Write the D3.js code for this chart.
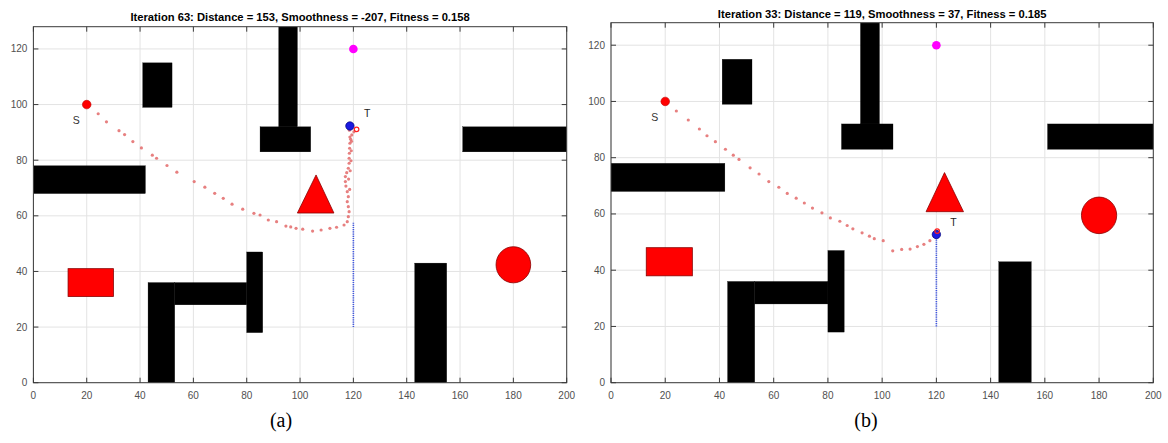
<!DOCTYPE html>
<html><head><meta charset="utf-8">
<script src="https://cdn.jsdelivr.net/npm/d3@7"></script>
<style>body{margin:0;background:#fff;} svg{display:block;}</style>
</head><body><svg id="c" width="1168" height="443"></svg>
<script>
// ---------------- data ----------------
const xTicks = [0,20,40,60,80,100,120,140,160,180,200];
const yTicks = [0,20,40,60,80,100,120];
const titles = ["Iteration 63: Distance = 153, Smoothness = -207, Fitness = 0.158",
                "Iteration 33: Distance = 119, Smoothness = 37, Fitness = 0.185"];
const panelLabels = ["(a)", "(b)"];
// static obstacles [x0, y0, x1, y1]
const blackRects = [
  [41,99,52,115],[92,92,99,128],[85,83,104,92],[161,83,200,92],[0,68,42,78],
  [43,0,53,36],[53,28,80,36],[80,18,86,47],[143,0,155,43]
];
const startPoint = [20,100];
const goalPoint = [120,120];
const startLabel = [16.1,94.5];
// dynamic obstacles per panel
const redRectA = [13,31,30,41];
const redRectB = [13,38,30,48];
const triangleA = [[99,61],[112.7,61],[106,74.7]];
const triangleB = [[116.2,60.8],[130,60.8],[123,74.7]];
const circleA = [180,42.4,6.5];
const circleB = [180,59.5,6.5];
// planned path dots
const pathA = [[24.3,96.7],[27.4,93.8],[32.1,90.6],[34.2,89.2],[37.3,86.7],[40.5,84.4],[44.6,81.8],[46.2,80.7],
  [50.1,78.1],[53.8,75.7],[60.3,72.3],[64.3,70.3],[68,68.1],[71.2,66.3],[74.5,64.2],[78.5,62.4],[82.7,60.9],
  [85,60.3],[88.1,58.5],[91.2,57.9],[94.7,56.3],[96.5,56],[98.5,55.5],[101,55.2],[104.7,54.5],[107.9,54.9],
  [111.2,55.5],[113.7,55.9],[116.5,56.7],[117.7,57.9],[118.1,59.7],[118.4,61.5],[118.1,63.3],[117.7,65.1],
  [118.1,66.9],[117.7,68.7],[118.6,69.5],[117.2,70.7],[117,72.3],[118.2,73.2],[117,74.1],[117.5,75.5],
  [118.8,76.2],[118.1,77.1],[118.4,78.9],[119.1,79.8],[118.4,80.7],[118.5,82.5],[119.2,83.4],[118.6,84.3],
  [118.7,86.1],[119.3,86.8],[119,87.5],[118.7,88.3],[119.4,89.1],[120.2,90.2],[118.5,90.8]];
const pathB = [[24.1,96.6],[28.5,93.4],[32.6,90.2],[35.4,87.8],[38.5,85.7],[42.2,83],[45.1,80.9],[47.2,79.4],
  [51.3,76.4],[54.6,74.2],[58.2,71.5],[61.9,69.5],[65,67.3],[68.3,65.6],[71.3,63.9],[74.3,62.1],[77.8,60.4],
  [80.9,58.6],[84.4,57.4],[87.1,55.9],[89.2,54.7],[92.6,53.3],[95.3,52.1],[97.1,51.2],[100.4,50.5],
  [103.9,46.9],[107.2,47.4],[110.3,47.5],[113,48.4],[115.4,49.2],[117.6,50.5],[119.2,52]];
// robot trail (blue dotted) and current positions
const trailA = [[120,20],[120,57.5]];
const trailB = [[120,20],[120,52]];
const robotA = [118.7,92.3];
const robotB = [120,52.7];
const markerA = [121.2,91.1];
const markerB = [120.3,53.9];
const targetLabelA = [125.2,96.9];
const targetLabelB = [126.3,57.2];

// ---------------- layout ----------------
const panels = [
  {left:33.4, right:566.7, top:26.7, bottom:382.7, titleY:21, labelX:281,
   title:titles[0], label:panelLabels[0], redRect:redRectA, tri:triangleA, circ:circleA,
   path:pathA, trail:trailA, robot:robotA, marker:markerA, tLabel:targetLabelA},
  {left:611, right:1153.3, top:22.7, bottom:382.7, titleY:17.5, labelX:866,
   title:titles[1], label:panelLabels[1], redRect:redRectB, tri:triangleB, circ:circleB,
   path:pathB, trail:trailB, robot:robotB, marker:markerB, tLabel:targetLabelB}
];
const svg = d3.select("#c");
const FONT = "'Liberation Sans', Arial, Helvetica, sans-serif";

panels.forEach((p, i) => {
  const x = d3.scaleLinear().domain([0,200]).range([p.left, p.right]);
  const y = d3.scaleLinear().domain([0,128]).range([p.bottom, p.top]);
  const g = svg.append("g");
  const clipId = "clip" + i;
  g.append("clipPath").attr("id", clipId).append("rect")
    .attr("x", p.left).attr("y", p.top).attr("width", p.right - p.left).attr("height", p.bottom - p.top);

  // grid
  g.selectAll(".gx").data(xTicks).join("line")
    .attr("x1", d => x(d)).attr("x2", d => x(d)).attr("y1", p.top).attr("y2", p.bottom)
    .attr("stroke", "#e3e3e3").attr("stroke-width", 1);
  g.selectAll(".gy").data(yTicks).join("line")
    .attr("y1", d => y(d)).attr("y2", d => y(d)).attr("x1", p.left).attr("x2", p.right)
    .attr("stroke", "#e3e3e3").attr("stroke-width", 1);

  const plot = g.append("g").attr("clip-path", `url(#${clipId})`);

  // black obstacles
  plot.selectAll(".ob").data(blackRects).join("rect")
    .attr("x", d => x(d[0])).attr("y", d => y(d[3]))
    .attr("width", d => x(d[2]) - x(d[0])).attr("height", d => y(d[1]) - y(d[3]))
    .attr("fill", "#000").attr("stroke", "#000").attr("stroke-width", 0.3);

  // red dynamic obstacles
  const r = p.redRect;
  plot.append("rect").attr("x", x(r[0])).attr("y", y(r[3]))
    .attr("width", x(r[2]) - x(r[0])).attr("height", y(r[1]) - y(r[3]))
    .attr("fill", "#ff0000").attr("stroke", "#8a0000").attr("stroke-width", 0.8);
  plot.append("path").attr("d", d3.line().x(d => x(d[0])).y(d => y(d[1]))(p.tri) + "Z")
    .attr("fill", "#ff0000").attr("stroke", "#8a0000").attr("stroke-width", 0.8);
  const c = p.circ;
  plot.append("ellipse").attr("cx", x(c[0])).attr("cy", y(c[1]))
    .attr("rx", x(c[2]) - x(0)).attr("ry", y(0) - y(c[2]))
    .attr("fill", "#ff0000").attr("stroke", "#8a0000").attr("stroke-width", 0.8);

  // blue dotted trail
  plot.append("path").attr("d", d3.line().x(d => x(d[0])).y(d => y(d[1]))(p.trail))
    .attr("stroke", "#3f55e0").attr("stroke-width", 1.6).attr("stroke-dasharray", "1.2,1").attr("fill", "none");

  // path dots
  plot.selectAll(".pd").data(p.path).join("circle")
    .attr("cx", d => x(d[0])).attr("cy", d => y(d[1])).attr("r", 1.6)
    .attr("fill", "#e36a6a").attr("fill-opacity", 0.85);

  // start, goal
  plot.append("circle").attr("cx", x(startPoint[0])).attr("cy", y(startPoint[1])).attr("r", 4.3)
    .attr("fill", "#ff0000").attr("stroke", "#c00000").attr("stroke-width", 0.6);
  plot.append("circle").attr("cx", x(goalPoint[0])).attr("cy", y(goalPoint[1])).attr("r", 4.3)
    .attr("fill", "#ff00ff");

  // robot & marker
  plot.append("circle").attr("cx", x(p.robot[0])).attr("cy", y(p.robot[1])).attr("r", 4.2)
    .attr("fill", "#1a1ae0").attr("stroke", "#00007a").attr("stroke-width", 0.7);
  plot.append("circle").attr("cx", x(p.marker[0])).attr("cy", y(p.marker[1])).attr("r", 2.3)
    .attr("fill", "none").attr("stroke", "#ff2020").attr("stroke-width", 1.2);

  // S / T labels
  g.append("text").attr("x", x(startLabel[0])).attr("y", y(startLabel[1])).attr("dy", "0.36em")
    .attr("text-anchor", "middle").attr("font-family", FONT).attr("font-size", 10.5).attr("fill", "#333")
    .text("S");
  g.append("text").attr("x", x(p.tLabel[0])).attr("y", y(p.tLabel[1])).attr("dy", "0.36em")
    .attr("text-anchor", "middle").attr("font-family", FONT).attr("font-size", 10.5).attr("fill", "#222")
    .text("T");

  // frame
  g.append("rect").attr("x", p.left).attr("y", p.top)
    .attr("width", p.right - p.left).attr("height", p.bottom - p.top)
    .attr("fill", "none").attr("stroke", "#3a3a3a").attr("stroke-width", 1);

  // ticks (inward, all sides)
  const tl = 5;
  g.selectAll(".tb").data(xTicks).join("line")
    .attr("x1", d => x(d)).attr("x2", d => x(d)).attr("y1", p.bottom).attr("y2", p.bottom - tl)
    .attr("stroke", "#3a3a3a");
  g.selectAll(".tt").data(xTicks).join("line")
    .attr("x1", d => x(d)).attr("x2", d => x(d)).attr("y1", p.top).attr("y2", p.top + tl)
    .attr("stroke", "#3a3a3a");
  g.selectAll(".tl").data(yTicks).join("line")
    .attr("y1", d => y(d)).attr("y2", d => y(d)).attr("x1", p.left).attr("x2", p.left + tl)
    .attr("stroke", "#3a3a3a");
  g.selectAll(".tr").data(yTicks).join("line")
    .attr("y1", d => y(d)).attr("y2", d => y(d)).attr("x1", p.right).attr("x2", p.right - tl)
    .attr("stroke", "#3a3a3a");

  // tick labels
  g.selectAll(".xl").data(xTicks).join("text")
    .attr("x", d => x(d)).attr("y", p.bottom + 16)
    .attr("text-anchor", "middle").attr("font-family", FONT).attr("font-size", 10).attr("fill", "#505050")
    .text(d => d);
  g.selectAll(".yl").data(yTicks).join("text")
    .attr("x", p.left - 6).attr("y", d => y(d)).attr("dy", "0.35em")
    .attr("text-anchor", "end").attr("font-family", FONT).attr("font-size", 10).attr("fill", "#505050")
    .text(d => d);

  // title
  g.append("text").attr("x", (p.left + p.right) / 2).attr("y", p.titleY)
    .attr("text-anchor", "middle").attr("font-family", FONT).attr("font-size", 11.2)
    .attr("font-weight", "bold").attr("fill", "#000").text(p.title);

  // panel label
  g.append("text").attr("x", p.labelX).attr("y", 427)
    .attr("text-anchor", "middle").attr("font-family", "'Liberation Serif', 'Times New Roman', serif")
    .attr("font-size", 20).attr("fill", "#000").text(p.label);
});
</script>
</body></html>
